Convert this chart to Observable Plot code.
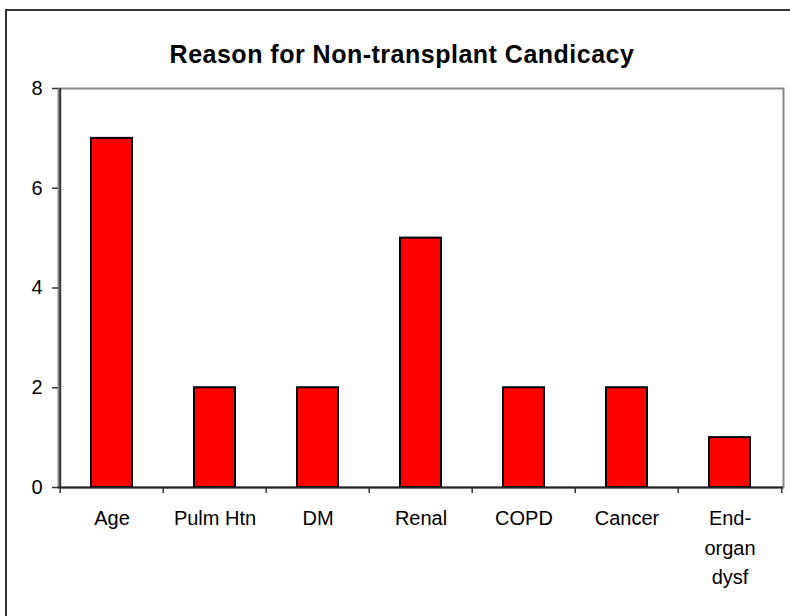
<!DOCTYPE html>
<html>
<head>
<meta charset="utf-8">
<script src="https://cdn.jsdelivr.net/npm/d3@7"></script>
<script src="https://cdn.jsdelivr.net/npm/@observablehq/plot@0.6"></script>
<style>
  html, body { margin: 0; padding: 0; background: #fff; }
  #wrap { position: relative; width: 790px; height: 616px; overflow: hidden; background: #fff; }
  #border { position: absolute; left: 5px; top: 9px; right: -20px; bottom: -20px; border: 2px solid #333; }
  #title { position: absolute; left: 7px; width: 790px; top: 41.5px; text-align: center;
           font-family: "Liberation Sans", Arial, sans-serif; font-weight: bold; font-size: 25px;
           line-height: 25px; letter-spacing: 0.5px; color: #000; }
  #chart { position: absolute; left: 0; top: 0; }
</style>
</head>
<body>
<div id="wrap">
  <div id="border"></div>
  <div id="chart"></div>
  <div id="title">Reason for Non-transplant Candicacy</div>
</div>
<script>
const categories = ["Age", "Pulm Htn", "DM", "Renal", "COPD", "Cancer", "End-organ dysf"];
const values = [7, 2, 2, 5, 2, 2, 1];
const xTickLabels = ["Age", "Pulm Htn", "DM", "Renal", "COPD", "Cancer", "End-\norgan\ndysf"];
const yTicks = [0, 2, 4, 6, 8];

const data = categories.map((c, i) => ({cat: c, value: values[i]}));

const W = 790, H = 616, mL = 58, mR = 7, mT = 88, mB = 129;
const step = (W - mL - mR) / categories.length;
const font = "'Liberation Sans', Arial, sans-serif";

const chart = Plot.plot({
  width: W,
  height: H,
  marginLeft: mL,
  marginRight: mR,
  marginTop: mT,
  marginBottom: mB,
  style: {background: "transparent", fontFamily: font, color: "#000"},
  x: {domain: categories, paddingInner: 0.6, paddingOuter: 0.3, axis: null},
  y: {domain: [0, 8], axis: null},
  marks: [
    Plot.frame({stroke: "#888", strokeWidth: 2}),
    Plot.barY(data, {x: "cat", y: "value", fill: "#ff0000", stroke: "#000", strokeWidth: 2}),
    Plot.ruleX([categories[0]], {dx: -step / 2, y1: 0, y2: 8, stroke: "#333", strokeWidth: 2}),
    Plot.ruleY([0], {stroke: "#222", strokeWidth: 2}),
    Plot.ruleX(categories, {dx: -step / 2, y1: 0, y2: 0, insetBottom: -6, stroke: "#333", strokeWidth: 1.5}),
    Plot.ruleX([categories[categories.length - 1]], {dx: step / 2, y1: 0, y2: 0, insetBottom: -6, stroke: "#333", strokeWidth: 1.5}),
    Plot.axisY({ticks: yTicks, tickSize: 6, tickPadding: 10, fontSize: 20, label: null, stroke: "#333", strokeWidth: 1.5, fill: "#000"}),
    Plot.axisX({tickSize: 0, tickPadding: 17, fontSize: 20, lineHeight: 1.475, label: null, fill: "#000",
                tickFormat: d => xTickLabels[categories.indexOf(d)]})
  ]
});
document.getElementById("chart").appendChild(chart);
</script>
</body>
</html>
